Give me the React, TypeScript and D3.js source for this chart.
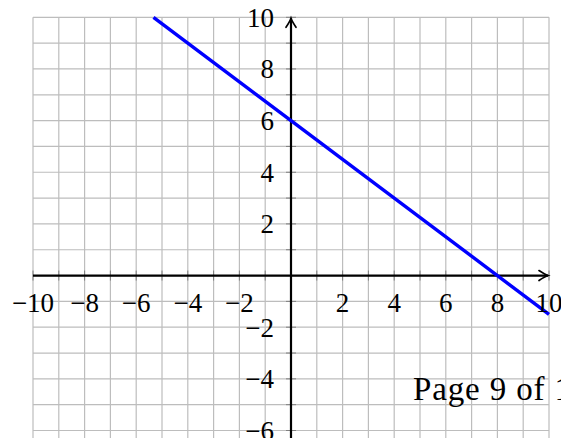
import React from "react";
import * as d3 from "d3";

const lineX = [-5.33, 0, 8, 10];
const lineY = [10, 6, 0, -1.5];
const xTickLabels = [-10, -8, -6, -4, -2, 2, 4, 6, 8, 10];
const yTickLabels = [-6, -4, -2, 2, 4, 6, 8, 10];
const gridValuesX = d3.range(-10, 11, 1);
const gridValuesY = d3.range(-7, 11, 1);
const pageText = "Page 9 of 1";

const W = 561;
const H = 438;

export default function App() {
  const x = d3.scaleLinear().domain([-10, 10]).range([33, 549]);
  const y = d3.scaleLinear().domain([-6, 10]).range([430.5, 17.3]);
  const x0 = x(0);
  const y0 = y(0);
  const pts = lineX.map((v, i) => [v, lineY[i]] as [number, number]);
  const line = d3
    .line<[number, number]>()
    .x((d) => x(d[0]))
    .y((d) => y(d[1]));
  const minus = (v: number) => (v < 0 ? "\u2212" + Math.abs(v) : String(v));
  const font = "Liberation Serif";
  const xTip = x(10) - 1;
  const yTip = y(10) + 1;
  return (
    <svg
      width={W}
      height={H}
      style={{ position: "absolute", left: 0, top: 0, background: "#fff" }}
    >
      <g stroke="#bdbdbd" strokeWidth={1.2}>
        {gridValuesX.map((v) => (
          <line key={"gx" + v} x1={x(v)} x2={x(v)} y1={y(10)} y2={H} />
        ))}
        {gridValuesY.map((v) => (
          <line key={"gy" + v} x1={x(-10)} x2={x(10)} y1={y(v)} y2={y(v)} />
        ))}
      </g>
      <g stroke="#808080" strokeWidth={1}>
        {gridValuesX.map((v) => (
          <line key={"tx" + v} x1={x(v)} x2={x(v)} y1={y0 - 5} y2={y0 + 5} />
        ))}
        {gridValuesY.map((v) => (
          <line key={"ty" + v} x1={x0 - 5} x2={x0 + 5} y1={y(v)} y2={y(v)} />
        ))}
      </g>
      <g stroke="#000" strokeWidth={2.2} fill="none">
        <line x1={x(-10)} x2={xTip} y1={y0} y2={y0} />
        <line x1={x0} x2={x0} y1={H} y2={yTip} />
      </g>
      <g stroke="#000" strokeWidth={1.7} fill="none" strokeLinecap="round">
        <path
          d={`M${xTip - 9},${y0 - 5} Q${xTip - 3},${y0 - 1} ${xTip},${y0} Q${xTip - 3},${y0 + 1} ${xTip - 9},${y0 + 5}`}
        />
        <path
          d={`M${x0 - 5},${yTip + 9} Q${x0 - 1},${yTip + 3} ${x0},${yTip} Q${x0 + 1},${yTip + 3} ${x0 + 5},${yTip + 9}`}
        />
      </g>
      <path
        d={line(pts) || ""}
        stroke="#0000ff"
        strokeWidth={3.4}
        fill="none"
      />
      <g fontFamily={font} fontSize={27} fill="#000">
        {xTickLabels.map((v) => (
          <text key={"lx" + v} x={x(v)} y={y0 + 36.5} textAnchor="middle">
            {minus(v)}
          </text>
        ))}
        {yTickLabels.map((v) => (
          <text key={"ly" + v} x={x0 - 17} y={y(v) + 9.5} textAnchor="end">
            {minus(v)}
          </text>
        ))}
      </g>
      <text
        x={413}
        y={400}
        fontFamily={font}
        fontSize={33}
        textLength={158}
        lengthAdjust="spacing"
      >
        {pageText}
      </text>
    </svg>
  );
}
